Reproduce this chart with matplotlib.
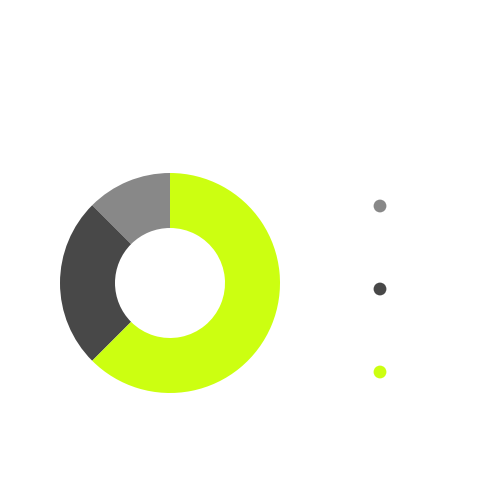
import matplotlib
matplotlib.use("Agg")
import matplotlib.pyplot as plt
import numpy as np

categories = ["Category A", "Category B", "Category C"]
values = [12.5, 25, 62.5]
colors = ["#888888", "#484848", "#CCFF11"]

fig = plt.figure(figsize=(5, 5), dpi=100)
fig.patch.set_facecolor("white")

# Donut
ax = fig.add_axes([0.119, 0.214, 0.442, 0.44])
ax.pie(values, colors=colors, startangle=90, counterclock=True,
       radius=1.0, wedgeprops=dict(width=0.5, edgecolor="none"))
ax.set_xlim(-1, 1)
ax.set_ylim(-1, 1)
ax.set_aspect("equal")
ax.axis("off")

# Legend dots
lax = fig.add_axes([0.72, 0.173, 0.08, 0.498])
ypos = np.arange(len(categories))
for i, (cat, col) in enumerate(zip(categories, colors)):
    lax.scatter([0], [ypos[i]], s=85, color=col, edgecolors="none", label=cat)
lax.set_xlim(-1, 1)
lax.set_ylim(len(categories) - 0.5, -0.5)
lax.axis("off")

fig.savefig("out.png", dpi=100, facecolor="white")
